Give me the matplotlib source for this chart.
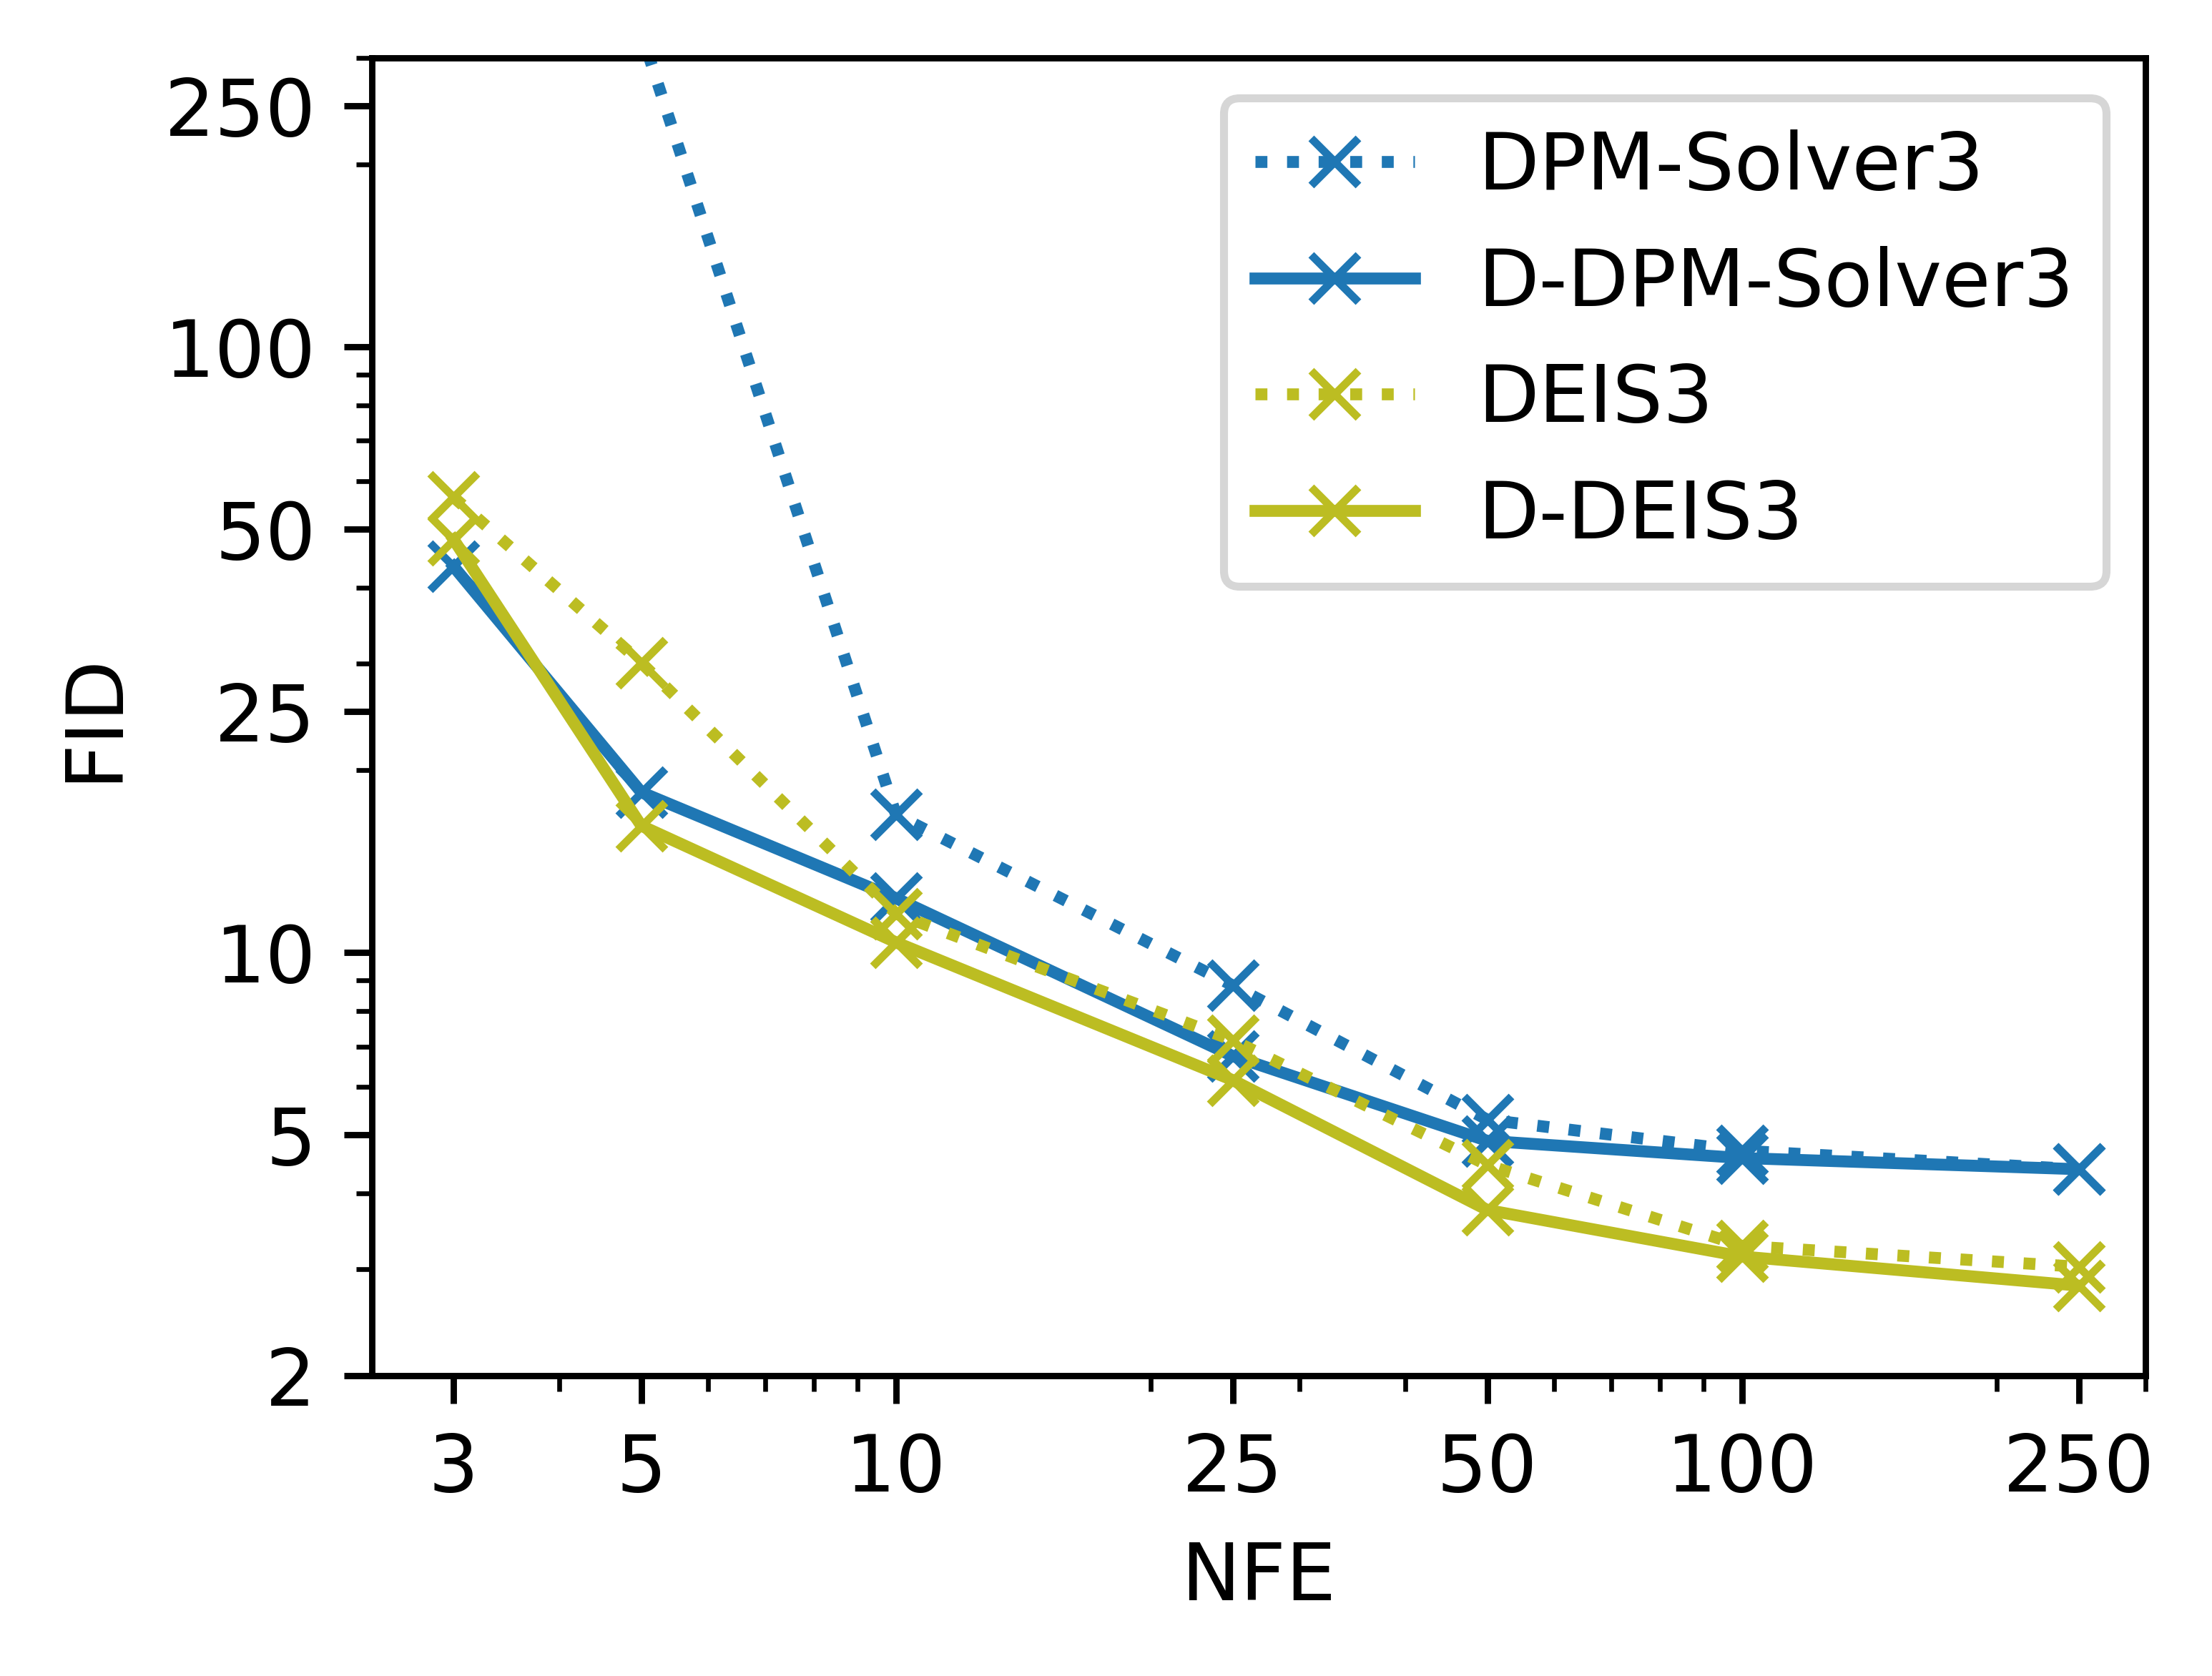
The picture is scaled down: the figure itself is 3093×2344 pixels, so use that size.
import matplotlib
matplotlib.use("Agg")
import matplotlib.pyplot as plt
from matplotlib.ticker import NullFormatter

# NFE steps and FID values
nfe = [3, 5, 10, 25, 50, 100, 250]
dpm_solver3 = [900, 330, 16.9, 8.83, 5.30, 4.71, 4.39]
d_dpm_solver3 = [43.4, 18.4, 12.3, 6.75, 4.89, 4.58, 4.39]
deis3 = [56.5, 30.1, 11.6, 7.17, 4.46, 3.28, 3.03]
d_deis3 = [48.1, 16.2, 10.4, 6.16, 3.76, 3.15, 2.82]

x_ticks = [3, 5, 10, 25, 50, 100, 250]
y_ticks = [2, 5, 10, 25, 50, 100, 250]

BLUE = '#1f77b4'
OLIVE = '#bcbd22'

fig = plt.figure(figsize=(3093 / 800, 2344 / 800), dpi=800)
ax = fig.add_axes([0.168, 0.179, 0.802, 0.7864])

ax.plot(nfe, dpm_solver3, ':', marker='x', color=BLUE, label='DPM-Solver3')
ax.plot(nfe, d_dpm_solver3, '-', marker='x', color=BLUE, label='D-DPM-Solver3')
ax.plot(nfe, deis3, ':', marker='x', color=OLIVE, label='DEIS3')
ax.plot(nfe, d_deis3, '-', marker='x', color=OLIVE, label='D-DEIS3')

ax.set_xscale('log')
ax.set_yscale('log')
ax.set_xlim(2.4, 300)
ax.set_ylim(2, 300)
ax.set_xticks(x_ticks, labels=[str(t) for t in x_ticks])
ax.set_yticks(y_ticks, labels=[str(t) for t in y_ticks])
ax.xaxis.set_minor_formatter(NullFormatter())
ax.yaxis.set_minor_formatter(NullFormatter())

ax.set_xlabel('NFE')
ax.set_ylabel('FID')
ax.legend(loc='upper right')

fig.savefig('out.png', dpi=800)
